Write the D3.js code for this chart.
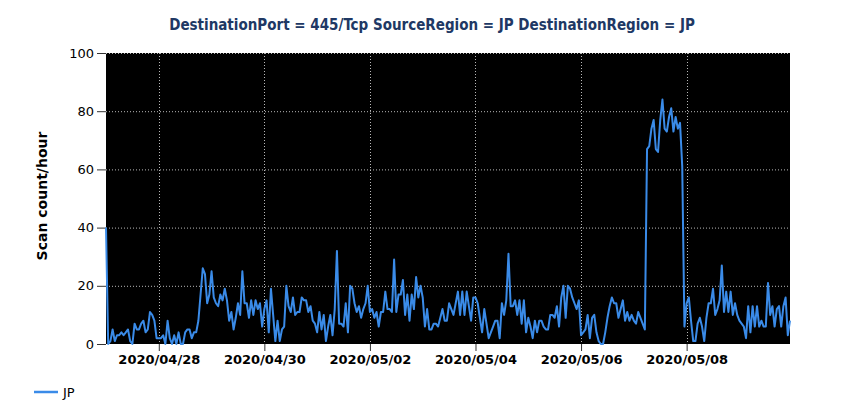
<html>
<meta name="viewport" content="width=device-width, initial-scale=1">
    <head>
        <!-- Load d3.js -->
        <script src="https://d3js.org/d3.v7.js"></script>
        <style>
            body { margin: 0; background: #ffffff; }
            svg { display: block; }
        </style>
    </head>

    <body>

        <svg width="850" height="420"></svg>

        <script>
            // ---- data (hourly) ----
            var seriesNames = ["JP"];
            var startTime = "2020-04-27T00:00:00Z";
            var jpValues = [
                40, 0, 1, 5, 1, 3, 3, 4, 3, 4,
                5, 1, 0, 7, 5, 5, 7, 8, 4, 5,
                11, 10, 8, 2, 2, 2, 3, 0, 8, 2,
                0, 3, 0, 4, 0, 0, 4, 5, 5, 2,
                4, 4, 8, 17, 26, 24, 14, 17, 25, 16,
                14, 13, 17, 15, 19, 15, 8, 11, 5, 9,
                14, 10, 25, 14, 14, 9, 15, 10, 15, 12,
                14, 6, 12, 15, 4, 19, 10, 1, 8, 1,
                5, 6, 20, 13, 11, 16, 10, 11, 11, 16,
                15, 15, 11, 13, 8, 7, 4, 11, 5, 10,
                1, 6, 10, 3, 12, 32, 7, 7, 6, 14,
                4, 20, 19, 14, 11, 13, 9, 12, 14, 20,
                11, 12, 9, 11, 6, 11, 11, 18, 12, 12,
                11, 29, 11, 17, 17, 22, 10, 17, 8, 17,
                12, 23, 16, 20, 16, 6, 12, 5, 5, 7,
                7, 6, 9, 12, 8, 8, 14, 12, 10, 14,
                18, 10, 18, 10, 18, 13, 8, 16, 16, 14,
                9, 4, 12, 7, 2, 4, 6, 8, 8, 2,
                14, 10, 15, 31, 13, 13, 15, 10, 15, 7,
                15, 4, 9, 6, 2, 8, 4, 8, 8, 6,
                5, 5, 10, 10, 9, 13, 6, 16, 20, 9,
                20, 19, 16, 14, 12, 15, 3, 4, 5, 10,
                2, 9, 10, 4, 1, 0, 0, 4, 9, 13,
                16, 14, 14, 9, 12, 15, 8, 11, 8, 10,
                8, 7, 11, 9, 7, 5, 67, 68, 74, 77,
                67, 66, 77, 84, 74, 73, 78, 81, 73, 78,
                74, 76, 61, 6, 14, 16, 8, 1, 1, 7,
                9, 6, 1, 9, 14, 14, 19, 10, 12, 15,
                27, 11, 18, 11, 18, 10, 14, 10, 8, 7,
                6, 2, 13, 4, 13, 6, 13, 6, 8, 6,
                6, 21, 10, 13, 6, 12, 13, 6, 13, 16,
                3, 8
            ];
            var yTicks = [0, 20, 40, 60, 80, 100];
            var xTickLabels = ["2020/04/28", "2020/04/30", "2020/05/02", "2020/05/04", "2020/05/06", "2020/05/08"];

            var titleText = "DestinationPort = 445/Tcp SourceRegion = JP DestinationRegion = JP";
            var yLabel = "Scan count/hour";
            var lineColor = "#3a8be8";

            // ---- layout ----
            var plot = { left: 106, right: 790, top: 53, bottom: 344 };

            var t0 = new Date(startTime);
            var points = jpValues.map(function(v, i) {
                return { t: d3.utcHour.offset(t0, i), v: v };
            });
            var parseTick = d3.utcParse("%Y/%m/%d");
            var tickDates = xTickLabels.map(parseTick);

            var x = d3.scaleUtc()
                .domain(d3.extent(points, function(d) { return d.t; }))
                .range([plot.left, plot.right]);
            var y = d3.scaleLinear()
                .domain([0, 100])
                .range([plot.bottom, plot.top]);

            var mySvg = d3.select("svg");
            var background = mySvg.append("g").attr("id", "background");
            var foreground = mySvg.append("g").attr("id", "foreground");

            background.append("rect")
                .attr("x", plot.left)
                .attr("y", plot.top)
                .attr("width", plot.right - plot.left)
                .attr("height", plot.bottom - plot.top)
                .style("fill", "#000000");

            // dotted grid
            background.selectAll(".hgrid")
                .data(yTicks.filter(function(d) { return d > 0; }))
                .enter().append("line")
                .attr("class", "hgrid")
                .attr("x1", plot.left).attr("x2", plot.right)
                .attr("y1", function(d) { return y(d) + 0.5; })
                .attr("y2", function(d) { return y(d) + 0.5; })
                .style("stroke", "#b8b8b8")
                .style("stroke-width", 1)
                .style("stroke-dasharray", "1,2");

            background.selectAll(".vgrid")
                .data(tickDates)
                .enter().append("line")
                .attr("class", "vgrid")
                .attr("x1", function(d) { return Math.round(x(d)) + 0.5; })
                .attr("x2", function(d) { return Math.round(x(d)) + 0.5; })
                .attr("y1", plot.top).attr("y2", plot.bottom)
                .style("stroke", "#b8b8b8")
                .style("stroke-width", 1)
                .style("stroke-dasharray", "1,2");

            // axes
            var yAxis = d3.axisLeft(y).tickValues(yTicks).tickSize(9).tickPadding(3);
            var yg = foreground.append("g")
                .attr("transform", "translate(" + plot.left + ",0)")
                .call(yAxis);
            yg.select(".domain").remove();
            yg.selectAll("text")
                .style("font-family", "'DejaVu Sans', Verdana, sans-serif")
                .style("font-size", "13px")
                .style("fill", "#000");
            yg.selectAll("line").style("stroke", "#333");

            var xAxis = d3.axisBottom(x)
                .tickValues(tickDates)
                .tickFormat(d3.utcFormat("%Y/%m/%d"))
                .tickSize(7).tickPadding(4);
            var xg = foreground.append("g")
                .attr("transform", "translate(0," + plot.bottom + ")")
                .call(xAxis);
            xg.select(".domain").remove();
            xg.selectAll("text")
                .style("font-family", "'DejaVu Sans', Verdana, sans-serif")
                .style("font-size", "13px")
                .style("font-weight", "bold")
                .style("fill", "#000");
            xg.selectAll("line").style("stroke", "#333");

            // series line
            var line = d3.line()
                .x(function(d) { return x(d.t); })
                .y(function(d) { return y(d.v); });

            foreground.append("path")
                .datum(points)
                .attr("d", line)
                .style("fill", "none")
                .style("stroke", lineColor)
                .style("stroke-width", 2)
                .style("stroke-linejoin", "round");

            // title
            mySvg.append("text")
                .attr("x", 432)
                .attr("y", 30)
                .attr("text-anchor", "middle")
                .style("font-family", "'DejaVu Sans Condensed', 'DejaVu Sans', sans-serif")
                .style("font-size", "15px")
                .style("font-weight", "bold")
                .style("fill", "#203864")
                .text(titleText);

            // y axis label
            mySvg.append("text")
                .attr("transform", "translate(47,196) rotate(-90)")
                .attr("text-anchor", "middle")
                .style("font-family", "'DejaVu Sans', Verdana, sans-serif")
                .style("font-size", "14px")
                .style("font-weight", "bold")
                .style("fill", "#000")
                .text(yLabel);

            // legend
            var legend = mySvg.append("g").attr("id", "legend");
            legend.selectAll("line")
                .data(seriesNames)
                .enter().append("line")
                .attr("x1", 34).attr("x2", 58)
                .attr("y1", 392).attr("y2", 392)
                .style("stroke", lineColor)
                .style("stroke-width", 2.5);
            legend.selectAll("text")
                .data(seriesNames)
                .enter().append("text")
                .attr("x", 63)
                .attr("y", 397)
                .style("font-family", "'DejaVu Sans', Verdana, sans-serif")
                .style("font-size", "13px")
                .style("fill", "#000")
                .text(function(d) { return d; });
        </script>

    </body>
</html>
